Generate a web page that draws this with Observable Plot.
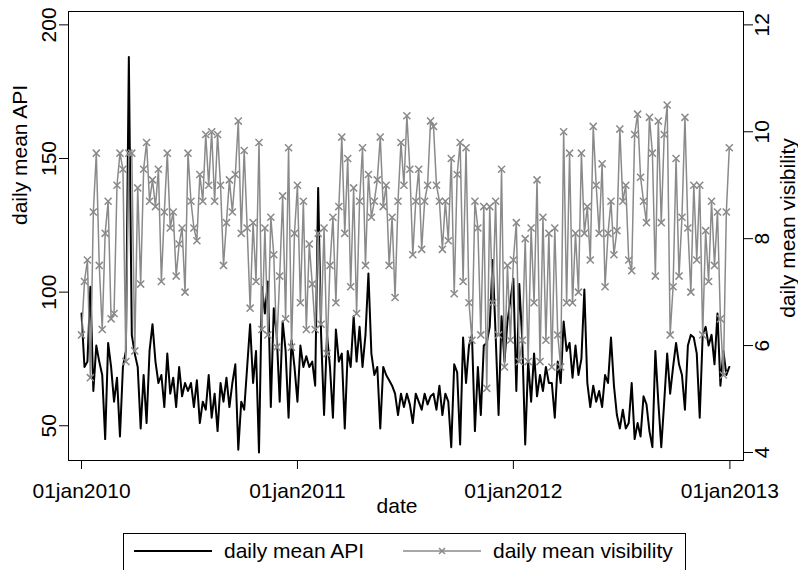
<!DOCTYPE html>
<html><head><meta charset="utf-8">
<script src="https://cdn.jsdelivr.net/npm/d3@7"></script>
<script src="https://cdn.jsdelivr.net/npm/@observablehq/plot@0.6"></script>
<style>
html,body{margin:0;padding:0;background:#fff;}
body{width:798px;height:570px;overflow:hidden;position:relative;font-family:"Liberation Sans",Arial,sans-serif;}
#legend{position:absolute;left:123px;top:533px;width:563px;height:46px;border:1px solid #000;box-sizing:border-box;background:#fff;}
#legend .t{position:absolute;top:0;font-size:21px;line-height:34px;color:#000;white-space:nowrap;}
#legend svg{position:absolute;top:0;}
</style></head><body>
<div id="chart"></div>
<div id="legend"></div>
<script>
// ---- data (one value every 5 days from startDate) ----
const startDate = "2010-01-01";
const stepDays = 5;
const api = [92,72,74,102,63,80,74,69,45,81,72,59,68,46,72,78,188,84,77,72,
49,69,51,78,88,74,66,69,57,77,62,68,57,72,61,66,63,66,57,67,
51,59,56,69,53,62,48,66,59,68,57,66,73,41,59,56,72,88,66,78,
40,102,92,104,57,94,84,59,89,78,53,82,72,59,80,72,76,72,74,65,
139,84,54,84,72,53,86,74,77,49,78,72,91,74,87,72,84,107,77,69,
72,49,72,69,67,65,62,54,62,57,62,58,51,62,59,56,62,58,61,62,
56,65,54,62,59,42,73,70,43,83,66,80,84,48,72,54,80,81,87,112,
84,54,91,74,89,97,105,63,103,82,43,74,59,77,61,69,63,72,66,66,
53,74,66,89,78,81,68,80,69,75,101,66,57,65,59,63,57,69,66,83,
65,54,49,56,49,51,66,45,51,46,61,58,48,42,78,59,42,59,77,62,
72,81,73,69,56,80,84,83,77,53,84,87,80,84,73,92,65,78,69,72];
const vis = [6.2,7.2,7.6,5.4,8.5,9.6,7.5,6.3,8.1,8.7,6.5,6.6,9.0,9.6,9.3,5.7,9.6,9.6,5.9,8.95,
7.15,9.3,9.8,8.7,9.1,8.6,9.3,7.2,8.5,9.6,8.2,8.5,7.3,7.9,8.2,7.0,9.6,8.7,8.2,7.96,
9.2,8.7,9.95,9.0,10.0,8.7,9.95,9.0,7.5,8.3,9.1,8.5,9.2,10.2,8.1,9.65,8.2,6.7,8.3,7.2,
9.8,6.3,8.2,6.2,8.4,7.7,5.97,7.3,8.8,6.5,9.7,5.97,8.1,9.0,6.8,8.7,6.3,7.9,7.15,6.3,
8.1,6.4,8.2,5.85,7.5,8.4,6.8,8.6,9.9,8.1,9.5,7.1,8.95,6.6,8.7,9.7,7.5,9.2,8.4,8.7,
9.1,9.9,8.6,9.0,7.5,8.4,6.9,8.7,9.8,9.0,10.3,9.3,7.7,8.7,9.3,7.8,8.7,9.0,10.2,10.1,
9.0,8.7,7.8,8.7,7.96,9.5,6.97,9.2,9.8,7.2,9.7,6.8,6.1,8.7,8.2,6.2,8.6,5.2,8.6,6.8,
8.7,6.2,9.3,5.6,7.5,6.1,7.6,8.3,5.7,6.1,8.0,5.7,8.2,6.8,9.1,5.7,8.4,6.1,8.1,5.6,
8.2,6.2,5.6,10.0,6.8,9.6,6.8,8.1,7.0,9.6,8.1,8.6,7.6,10.1,9.0,8.1,9.4,7.1,8.1,8.7,
7.7,8.15,10.05,8.7,9.0,7.6,7.4,9.95,10.33,9.15,8.7,8.3,10.27,9.6,7.3,10.2,8.3,9.95,10.5,6.2,
7.1,9.5,7.3,8.4,10.27,8.2,7.0,9.0,7.6,9.0,6.2,8.15,7.2,8.7,7.5,8.5,6.5,5.45,8.5,9.7];
const xTickDates = ["2010-01-01","2011-01-01","2012-01-01","2013-01-01"];
const xTickLabels = ["01jan2010","01jan2011","01jan2012","01jan2013"];
const leftTicks = [50,100,150,200];
const rightTicks = [4,6,8,10,12];
const seriesNames = ["daily mean API","daily mean visibility"];
const axisTitles = {x:"date", yLeft:"daily mean API", yRight:"daily mean visibility"};

// ---- build ----
const FONT = "Liberation Sans, Arial, sans-serif";
const GRAY = "#8a8a8a";
const start = new Date(startDate + "T00:00:00Z");
const data = api.map((a, i) => ({date: new Date(start.getTime() + i*stepDays*864e5), api: a, vis: vis[i]}));
// right axis (visibility) shares the frame with the API axis: 4..12 <-> 40..200
const visToApi = v => v*20 - 40;
const apiToVis = a => (a + 40)/20;
const tickDates = xTickDates.map(d => new Date(d + "T00:00:00Z"));
const labelOf = new Map(tickDates.map((d,i) => [+d, xTickLabels[i]]));

const chart = Plot.plot({
  width: 798, height: 530,
  marginLeft: 68, marginRight: 55, marginTop: 11, marginBottom: 70,
  style: {fontFamily: FONT, fontSize: "21px", color: "#000", background: "#fff", overflow: "visible"},
  x: {type: "utc", domain: [new Date(Date.UTC(2009,11,10)), new Date(Date.UTC(2013,0,24))]},
  y: {domain: [37, 205]},
  marks: [
    Plot.lineY(data, {x: "date", y: "api", stroke: "#000", strokeWidth: 2}),
    Plot.lineY(data, {x: "date", y: d => visToApi(d.vis), stroke: GRAY, strokeWidth: 1.5}),
    Plot.dot(data, {x: "date", y: d => visToApi(d.vis), symbol: "times", r: 3.3, stroke: GRAY, strokeWidth: 1.5}),
    Plot.frame({stroke: "#000", strokeWidth: 1}),
    Plot.axisX(tickDates, {anchor: "bottom", tickSize: 9, tickPadding: 14, tickFormat: d => labelOf.get(+d), label: null, fontSize: 21}),
    Plot.axisY(leftTicks, {anchor: "left", tickSize: 9, tickPadding: 4, tickRotate: -90, label: null, fontSize: 21}),
    Plot.axisY(rightTicks.map(visToApi), {anchor: "right", tickSize: 9, tickPadding: 2, tickRotate: -90, lineAnchor: "top", tickFormat: d => String(Math.round(apiToVis(d))), label: null, fontSize: 21}),
    Plot.text([axisTitles.yLeft], {frameAnchor: "left", textAnchor: "middle", lineAnchor: "middle", dx: -48, dy: -81, rotate: -90, fontSize: 21}),
    Plot.text([axisTitles.yRight], {frameAnchor: "right", textAnchor: "middle", lineAnchor: "middle", dx: 45, dy: -8, rotate: -90, fontSize: 21}),
    Plot.text([axisTitles.x], {frameAnchor: "bottom", textAnchor: "middle", dx: -9, dy: 52, fontSize: 21})
  ]
});
document.getElementById("chart").appendChild(chart);

// ---- legend ----
const lg = document.getElementById("legend");
const ns = "http://www.w3.org/2000/svg";
function swatch(left, color, width, marker){
  const s = document.createElementNS(ns, "svg");
  s.setAttribute("width", 80); s.setAttribute("height", 34);
  s.style.left = left + "px";
  const l = document.createElementNS(ns, "line");
  l.setAttribute("x1", 1); l.setAttribute("x2", 79); l.setAttribute("y1", 17); l.setAttribute("y2", 17);
  l.setAttribute("stroke", color); l.setAttribute("stroke-width", width);
  s.appendChild(l);
  if (marker) {
    const p = document.createElementNS(ns, "path");
    p.setAttribute("d", "M37,14L43,20M43,14L37,20");
    p.setAttribute("stroke", color); p.setAttribute("stroke-width", 1.5);
    s.appendChild(p);
  }
  lg.appendChild(s);
}
function label(left, txt){
  const t = document.createElement("span");
  t.className = "t"; t.style.left = left + "px"; t.textContent = txt;
  lg.appendChild(t);
}
swatch(9, "#000", 2, false);
label(100, seriesNames[0]);
swatch(278, GRAY, 1.5, true);
label(369, seriesNames[1]);
</script>
</body></html>
